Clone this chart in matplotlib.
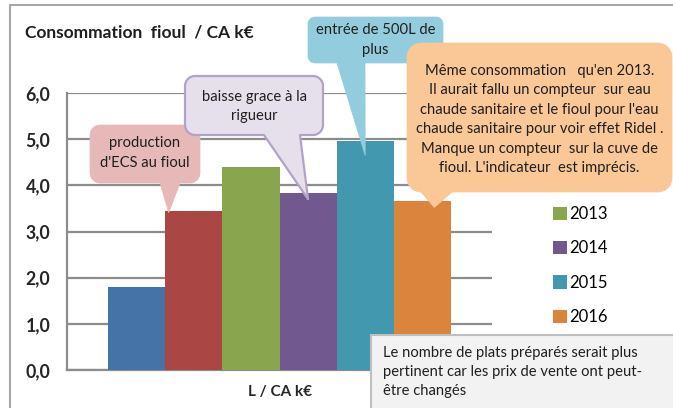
import numpy as np
import matplotlib.pyplot as plt
from matplotlib.patches import Polygon, Rectangle
from matplotlib.lines import Line2D

plt.rcParams['font.family'] = ['Lato', 'DejaVu Sans']

# Data
years = ['2011', '2012', '2013', '2014', '2015', '2016']
values = [1.80, 3.45, 4.40, 3.83, 4.95, 3.65]
colors = ['#4572A7', '#AA4643', '#89A54E', '#71588F', '#4198AF', '#DB843D']
category = 'L / CA k€'
yticks = [0, 1, 2, 3, 4, 5, 6]
ytick_labels = ['0,0', '1,0', '2,0', '3,0', '4,0', '5,0', '6,0']

W, H = 673, 408
fig = plt.figure(figsize=(W / 100, H / 100), dpi=100)

# plot area (pixels): x 67..492, y 93..370
ax = fig.add_axes([67 / W, (H - 370) / H, (492 - 67) / W, (370 - 93) / H])
xpos = np.arange(len(years)) - (len(years) - 1) / 2
bars = []
for i, yr in enumerate(years):
    b = ax.bar(xpos[i], values[i], width=1.0, color=colors[i], label=yr, zorder=3)
    bars.append(b)
ax.set_xlim(-3.72, 3.72)
ax.set_ylim(0, 6)
ax.set_yticks(yticks)
ax.set_yticklabels(ytick_labels, fontsize=12.8, fontweight='bold', color='#262626')
ax.set_xticks([0])
ax.set_xticklabels([category], fontsize=11, fontweight='bold', color='#262626')
ax.tick_params(axis='y', length=0, pad=12)
ax.tick_params(axis='x', length=0, pad=11)
ax.grid(axis='y', color='#8C8C8C', lw=1.6, zorder=0)
ax.set_axisbelow(True)
for s in ['top', 'right']:
    ax.spines[s].set_visible(False)
for s in ['left', 'bottom']:
    ax.spines[s].set_color('#8C8C8C')
    ax.spines[s].set_linewidth(1.6)

# only the 2013-2016 entries are visible (the others sit under the big callout)
fig.legend([b[0] for b in bars[2:]], years[2:], loc='upper left',
           bbox_to_anchor=(553 / W, 1 - 206 / H), frameon=False, fontsize=12,
           handlelength=0.85, handleheight=0.85, handletextpad=0.15,
           labelspacing=1.1, borderpad=0, borderaxespad=0)

fig.text(25 / W, 1 - 32 / H, 'Consommation  fioul  / CA k€', fontsize=12.5,
         fontweight='bold', color='#1F1F1F', va='center', ha='left')

# overlay in pixel coordinates for callouts
ov = fig.add_axes([0, 0, 1, 1], zorder=10)
ov.set_xlim(0, W)
ov.set_ylim(H, 0)
ov.axis('off')
ov.patch.set_alpha(0)


def to_px(x, y):
    px, py = ax.transData.transform((x, y))
    return px, H - py


def callout(box, base, tip, face, edge=None, r=10):
    x0, y0, x1, y1 = box

    def arc(cx, cy, a0, a1):
        a = np.radians(np.linspace(a0, a1, 10))
        return list(zip(cx + r * np.cos(a), cy + r * np.sin(a)))
    pts = arc(x0 + r, y0 + r, 180, 270) + arc(x1 - r, y0 + r, 270, 360)
    pts += arc(x1 - r, y1 - r, 0, 90)
    pts += [(base[1], y1), tip, (base[0], y1)]
    pts += arc(x0 + r, y1 - r, 90, 180)
    ov.add_patch(Polygon(pts, closed=True, facecolor=face,
                         edgecolor=edge if edge else face,
                         lw=1.6 if edge else 0.5, joinstyle='round'))


def box_text(box, txt, size=10.6, dy=0):
    x0, y0, x1, y1 = box
    ov.text((x0 + x1) / 2, (y0 + y1) / 2 + dy, txt, ha='center', va='center',
            fontsize=size, color='#1F1F1F', linespacing=1.5)


# pink callout -> 2012
tx, ty = to_px(xpos[1] - 0.44, values[1])
b = (90, 125, 200, 183)
callout(b, (160, 180), (tx, ty + 2), '#E6B9B8')
box_text(b, "production\nd'ECS au fioul", dy=-1)

# lavender callout -> 2014
tx, ty = to_px(xpos[3], values[3])
b = (185, 76, 323, 135)
callout(b, (264, 300), (tx, ty + 6), '#E5E0EC', edge='#B3A2C7')
box_text(b, 'baisse grace à la\nrigueur', dy=1)

# teal callout -> 2015
tx, ty = to_px(xpos[4], values[4])
b = (308, 17, 443, 63)
callout(b, (337, 365), (tx, ty + 14), '#93CDDD', r=7)
box_text(b, 'entrée de 500L de\nplus')

# orange callout -> 2016
tx, ty = to_px(xpos[5] + 0.21, values[5])
b = (407, 43, 672, 192)
callout(b, (421, 452), (tx, ty + 6), '#FAC796', r=14)
box_text(b, "Même consommation   qu'en 2013.\nIl aurait fallu un compteur  sur eau\n"
            "chaude sanitaire et le fioul pour l'eau\nchaude sanitaire pour voir effet Ridel .\n"
            "Manque un compteur  sur la cuve de\nfioul. L'indicateur  est imprécis.", dy=2)

# comment box
ov.add_patch(Rectangle((371, 335), 310, 80, facecolor='#F2F2F2', edgecolor='#BFBFBF', lw=1.5))
ov.text(383, 372, 'Le nombre de plats préparés serait plus\npertinent car les prix de vente ont peut-\nêtre changés',
        ha='left', va='center', fontsize=10.6, color='#1F1F1F', linespacing=1.45)

# chart border
ov.add_line(Line2D([10, 10, W], [H, 5, 5], color='#A6A6A6', lw=1.5))

fig.savefig('out.png', dpi=100)
